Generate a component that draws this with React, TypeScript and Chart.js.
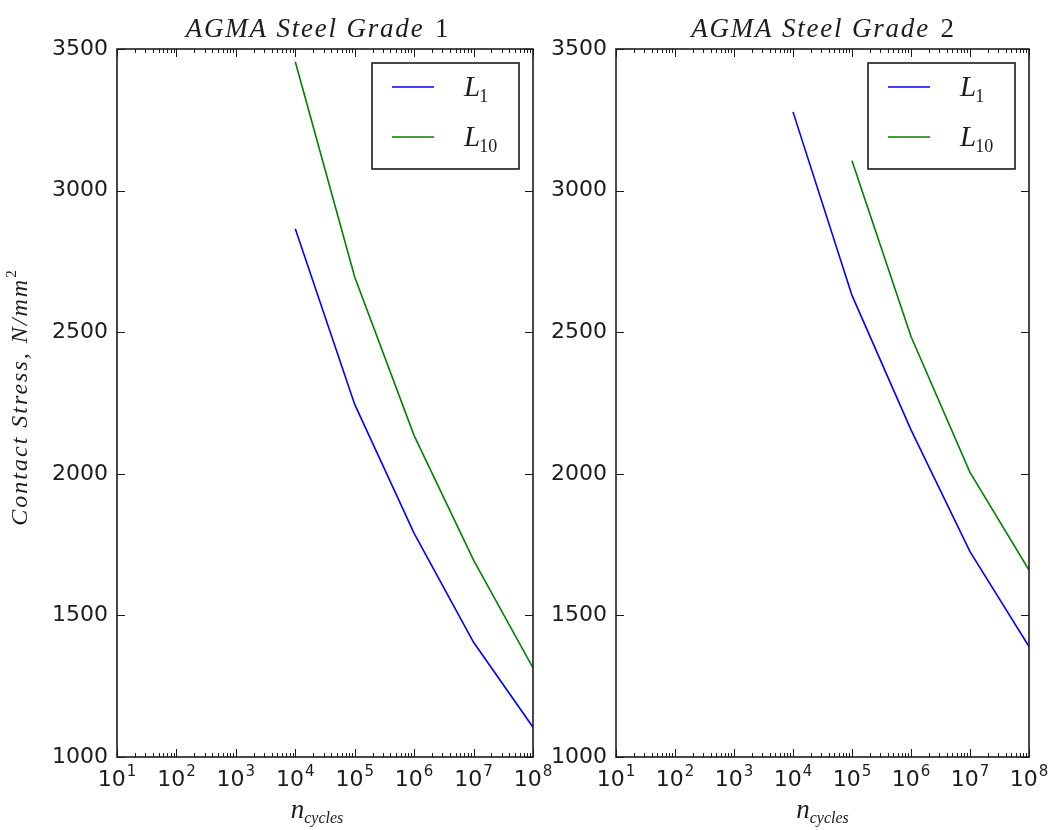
import React, { useEffect, useRef } from "react";
import { Chart, registerables } from "chart.js";

Chart.register(...registerables);

// ---- data ----
const cycles = [1e4, 1e5, 1e6, 1e7, 1e8];
const grade1L1 = [2865, 2245, 1790, 1405, 1105];
const grade1L10 = [3455, 2695, 2135, 1695, 1315];
const grade2L1 = [3278, 2630, 2155, 1725, 1390];
const grade2L10 = [null, 3105, 2485, 2005, 1660];

const seriesNames = ["L_1", "L_10"];
const seriesColors = ["#0000ff", "#008000"];
const panelTitles = ["AGMA Steel Grade |1", "AGMA Steel Grade |2"];
const yAxisTitle = "Contact Stress, N/mm";
const yAxisTitleSup = "2";
const xAxisTitle = "n";
const xAxisTitleSub = "cycles";

const xTickExponents = [1, 2, 3, 4, 5, 6, 7, 8];
const yTickValues = [1000, 1500, 2000, 2500, 3000, 3500];

const SANS = '"DejaVu Sans", sans-serif';
const SERIF = '"Liberation Serif", "DejaVu Serif", serif';
const INK = "#1c1c1c";

function toPoints(vals: (number | null)[]) {
  const pts: { x: number; y: number }[] = [];
  cycles.forEach((c, i) => {
    const v = vals[i];
    if (v !== null && v !== undefined) pts.push({ x: c, y: v });
  });
  return pts;
}

function setSpacing(ctx: any, px: number) {
  if ("letterSpacing" in ctx) ctx.letterSpacing = px + "px";
}

function makePlugin(title: string, showYTitle: boolean, titleShift: number) {
  return {
    id: "decor",
    afterDraw(chart: any) {
      const ctx = chart.ctx as CanvasRenderingContext2D;
      const { left, right, top, bottom } = chart.chartArea;
      const xs = chart.scales.x;
      const ys = chart.scales.y;
      ctx.save();
      ctx.strokeStyle = INK;
      ctx.fillStyle = INK;

      // y ticks
      ctx.lineWidth = 1;
      yTickValues.forEach((v) => {
        const py = Math.round(ys.getPixelForValue(v)) + 0.5;
        ctx.beginPath();
        ctx.moveTo(left, py);
        ctx.lineTo(left + 8, py);
        ctx.moveTo(right, py);
        ctx.lineTo(right - 8, py);
        ctx.stroke();
      });
      // x ticks major + minor
      xTickExponents.forEach((e) => {
        const px = Math.round(xs.getPixelForValue(Math.pow(10, e))) + 0.5;
        ctx.beginPath();
        ctx.moveTo(px, bottom);
        ctx.lineTo(px, bottom - 8);
        ctx.moveTo(px, top);
        ctx.lineTo(px, top + 8);
        ctx.stroke();
        if (e < xTickExponents[xTickExponents.length - 1]) {
          for (let m = 2; m <= 9; m++) {
            const qx = Math.round(xs.getPixelForValue(m * Math.pow(10, e))) + 0.5;
            ctx.beginPath();
            ctx.moveTo(qx, bottom);
            ctx.lineTo(qx, bottom - 4);
            ctx.moveTo(qx, top);
            ctx.lineTo(qx, top + 4);
            ctx.stroke();
          }
        }
      });

      // frame
      ctx.lineWidth = 1.6;
      ctx.strokeRect(left, top, right - left, bottom - top);

      // x tick labels
      ctx.textBaseline = "alphabetic";
      ctx.textAlign = "left";
      xTickExponents.forEach((e) => {
        const px = xs.getPixelForValue(Math.pow(10, e));
        ctx.font = `22px ${SANS}`;
        const w1 = ctx.measureText("10").width;
        ctx.font = `15px ${SANS}`;
        const w2 = ctx.measureText(String(e)).width;
        const x0 = px - (w1 + w2 + 1) / 2;
        ctx.font = `22px ${SANS}`;
        ctx.fillText("10", x0, bottom + 29);
        ctx.font = `15px ${SANS}`;
        ctx.fillText(String(e), x0 + w1 + 1, bottom + 19);
      });

      // x axis title
      const cx = (left + right) / 2 + titleShift;
      ctx.font = `italic 27px ${SERIF}`;
      const wn = ctx.measureText(xAxisTitle).width;
      ctx.font = `italic 16px ${SERIF}`;
      const ws = ctx.measureText(xAxisTitleSub).width;
      const xt0 = cx - (wn + ws) / 2;
      ctx.font = `italic 27px ${SERIF}`;
      ctx.fillText(xAxisTitle, xt0, bottom + 61);
      ctx.font = `italic 16px ${SERIF}`;
      ctx.fillText(xAxisTitleSub, xt0 + wn, bottom + 66);

      // panel title
      const [tItalic, tUp] = title.split("|");
      setSpacing(ctx, 1.8);
      ctx.font = `italic 27px ${SERIF}`;
      const ti = ctx.measureText(tItalic).width;
      ctx.font = `27px ${SERIF}`;
      const tu = ctx.measureText(tUp).width;
      const tx0 = cx - (ti + tu) / 2;
      ctx.font = `italic 27px ${SERIF}`;
      ctx.fillText(tItalic, tx0, top - 12);
      ctx.font = `27px ${SERIF}`;
      ctx.fillText(tUp, tx0 + ti + 2, top - 12);
      setSpacing(ctx, 0);

      // y axis title
      if (showYTitle) {
        ctx.save();
        ctx.translate(27, (top + bottom) / 2 - 6);
        ctx.rotate(-Math.PI / 2);
        setSpacing(ctx, 2);
        ctx.font = `italic 24px ${SERIF}`;
        const wa = ctx.measureText(yAxisTitle).width;
        ctx.font = `15px ${SERIF}`;
        const wb = ctx.measureText(yAxisTitleSup).width;
        const y0 = -(wa + wb) / 2;
        ctx.font = `italic 24px ${SERIF}`;
        ctx.fillText(yAxisTitle, y0, 0);
        ctx.font = `15px ${SERIF}`;
        ctx.fillText(yAxisTitleSup, y0 + wa, -11);
        setSpacing(ctx, 0);
        ctx.restore();
      }

      // legend
      const bw = 147;
      const bh = 106;
      const bx = right - 14 - bw;
      const by = top + 14;
      ctx.fillStyle = "#ffffff";
      ctx.fillRect(bx, by, bw, bh);
      ctx.lineWidth = 1.6;
      ctx.strokeStyle = INK;
      ctx.strokeRect(bx, by, bw, bh);
      chart.data.datasets.forEach((ds: any, i: number) => {
        const ly = by + 24 + i * 50;
        ctx.strokeStyle = ds.borderColor;
        ctx.lineWidth = 1.6;
        ctx.beginPath();
        ctx.moveTo(bx + 20, ly);
        ctx.lineTo(bx + 62, ly);
        ctx.stroke();
        const [base, sub] = String(ds.label).split("_");
        ctx.fillStyle = INK;
        ctx.font = `italic 29px ${SERIF}`;
        ctx.fillText(base, bx + 92, ly + 9);
        const wl = ctx.measureText(base).width;
        ctx.font = `18px ${SERIF}`;
        ctx.fillText(sub, bx + 92 + wl - 1, ly + 15);
      });

      ctx.restore();
    },
  };
}

function makeConfig(
  l1: (number | null)[],
  l10: (number | null)[],
  title: string,
  showYTitle: boolean,
  yWidth: number,
  padRight: number,
  titleShift: number
): any {
  return {
    type: "scatter",
    data: {
      datasets: [l1, l10].map((vals, i) => ({
        label: seriesNames[i],
        data: toPoints(vals),
        showLine: true,
        borderColor: seriesColors[i],
        backgroundColor: seriesColors[i],
        borderWidth: 1.6,
        pointRadius: 0,
        tension: 0,
      })),
    },
    options: {
      responsive: false,
      animation: false,
      devicePixelRatio: 1,
      layout: { padding: { top: 49, right: padRight, left: 0, bottom: 0 } },
      plugins: {
        legend: { display: false },
        title: { display: false },
        tooltip: { enabled: false },
      },
      scales: {
        x: {
          type: "logarithmic",
          min: 10,
          max: 1e8,
          grid: { display: false, drawTicks: false },
          border: { display: false },
          ticks: { display: false },
          afterFit: (s: any) => {
            s.height = 73;
          },
        },
        y: {
          type: "linear",
          min: 1000,
          max: 3500,
          grid: { display: false, drawTicks: false },
          border: { display: false },
          afterBuildTicks: (s: any) => {
            s.ticks = yTickValues.map((v) => ({ value: v }));
          },
          ticks: {
            padding: 9,
            color: INK,
            font: { family: SANS, size: 22 },
            callback: (v: any) => String(v),
          },
          afterFit: (s: any) => {
            s.width = yWidth;
          },
        },
      },
    },
    plugins: [makePlugin(title, showYTitle, titleShift)],
  };
}

export default function App() {
  const leftRef = useRef<HTMLCanvasElement>(null);
  const rightRef = useRef<HTMLCanvasElement>(null);

  useEffect(() => {
    const c1 = new Chart(
      leftRef.current as HTMLCanvasElement,
      makeConfig(grade1L1, grade1L10, panelTitles[0], true, 117, 1052 - 533, -8)
    );
    const c2 = new Chart(
      rightRef.current as HTMLCanvasElement,
      makeConfig(grade2L1, grade2L10, panelTitles[1], false, 616, 1052 - 1029, 0)
    );
    return () => {
      c1.destroy();
      c2.destroy();
    };
  }, []);

  return (
    <div
      style={{
        position: "absolute",
        left: 0,
        top: 0,
        width: 1052,
        height: 830,
        background: "#ffffff",
      }}
    >
      <canvas
        ref={leftRef}
        width={1052}
        height={830}
        style={{ position: "absolute", left: 0, top: 0, width: 1052, height: 830 }}
      />
      <canvas
        ref={rightRef}
        width={1052}
        height={830}
        style={{ position: "absolute", left: 0, top: 0, width: 1052, height: 830 }}
      />
    </div>
  );
}
